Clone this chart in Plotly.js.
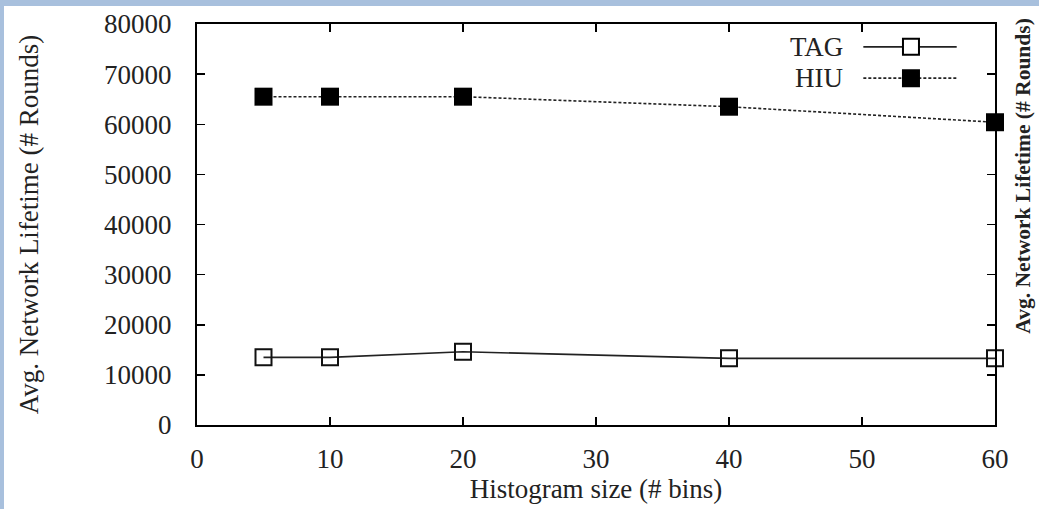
<!DOCTYPE html>
<html>
<head>
<meta charset="utf-8">
<script src="https://cdn.plot.ly/plotly-3.0.1.min.js"></script>
<style>
  html, body { margin: 0; padding: 0; background: #a8c0dd; width: 1039px; height: 509px; overflow: hidden; }
  #chart { position: absolute; left: 4px; top: 6px; width: 1035px; height: 503px; background: #ffffff; }
</style>
</head>
<body>
<div id="chart"></div>
<script>
// Data
const histogramBins = [5, 10, 20, 40, 60];
const tagLifetime = [13500, 13500, 14600, 13300, 13300];
const hiuLifetime = [65500, 65500, 65500, 63500, 60400];
const seriesNames = ["TAG", "HIU"];
const xTicks = [0, 10, 20, 30, 40, 50, 60];
const yTicks = [0, 10000, 20000, 30000, 40000, 50000, 60000, 70000, 80000];

const serif = "Liberation Serif, Times New Roman, serif";

const traces = [
  {
    x: histogramBins, y: tagLifetime, name: seriesNames[0],
    type: "scatter", mode: "lines+markers",
    line: { color: "#222222", width: 1.6 },
    marker: { symbol: "square-open", size: 16, color: "#111111", line: { width: 2, color: "#111111" } },
    cliponaxis: false, showlegend: false
  },
  {
    x: histogramBins, y: hiuLifetime, name: seriesNames[1],
    type: "scatter", mode: "lines+markers",
    line: { color: "#222222", width: 1.6, dash: "3px,2px" },
    marker: { symbol: "square", size: 18, color: "#000000" },
    cliponaxis: false, showlegend: false
  }
];

// Custom legend (text on the left, sample on the right, as in the reference)
const legendRows = [
  { name: seriesNames[0], y: 0.943, dash: "solid", fill: "#ffffff" },
  { name: seriesNames[1], y: 0.865, dash: "3px,2px", fill: "#000000" }
];
const shapes = [];
const annotations = [];
legendRows.forEach(r => {
  shapes.push({ type: "line", xref: "paper", yref: "paper", x0: 0.835, x1: 0.952, y0: r.y, y1: r.y,
    line: { color: "#222222", width: 1.6, dash: r.dash } });
  shapes.push({ type: "rect", xref: "paper", yref: "paper", xsizemode: "pixel", ysizemode: "pixel",
    xanchor: 0.8947, yanchor: r.y, x0: -8, x1: 8, y0: -8, y1: 8,
    fillcolor: r.fill, line: { color: "#000000", width: 2 } });
  annotations.push({ xref: "paper", yref: "paper", x: 0.812, y: r.y, xanchor: "right", yanchor: "middle",
    text: r.name, showarrow: false, font: { family: serif, size: 27, color: "#222222" } });
});
annotations.push({
  xref: "paper", yref: "paper", x: 1.034, y: 0.622, xanchor: "center", yanchor: "middle",
  textangle: -90, showarrow: false,
  text: "<b>Avg. Network Lifetime (# Rounds)</b>",
  font: { family: serif, size: 21.5, color: "#222222" }
});

const layout = {
  width: 1035, height: 503,
  margin: { l: 193, r: 44, t: 18, b: 84 },
  paper_bgcolor: "#ffffff", plot_bgcolor: "#ffffff",
  font: { family: serif, color: "#222222" },
  xaxis: {
    range: [0, 60], tickvals: xTicks, ticktext: xTicks.map(String),
    showgrid: false, zeroline: false,
    showline: true, linecolor: "#000000", linewidth: 2, mirror: "ticks",
    ticks: "inside", ticklen: 8, tickwidth: 1.5, tickcolor: "#000000",
    tickfont: { family: serif, size: 27, color: "#222222" },
    ticklabelstandoff: 9,
    title: { text: "Histogram size (# bins)", font: { family: serif, size: 27, color: "#222222" }, standoff: 6 }
  },
  yaxis: {
    range: [0, 80000], tickvals: yTicks, ticktext: yTicks.map(String),
    showgrid: false, zeroline: false,
    showline: true, linecolor: "#000000", linewidth: 2, mirror: "ticks",
    ticks: "inside", ticklen: 8, tickwidth: 1.5, tickcolor: "#000000",
    tickfont: { family: serif, size: 27, color: "#222222" },
    ticklabelstandoff: 18,
    title: { text: "Avg. Network Lifetime (# Rounds)", font: { family: serif, size: 27, color: "#222222" }, standoff: 58 }
  },
  shapes: shapes,
  annotations: annotations,
  showlegend: false
};

Plotly.newPlot("chart", traces, layout, { displayModeBar: false, staticPlot: true });
</script>
</body>
</html>
